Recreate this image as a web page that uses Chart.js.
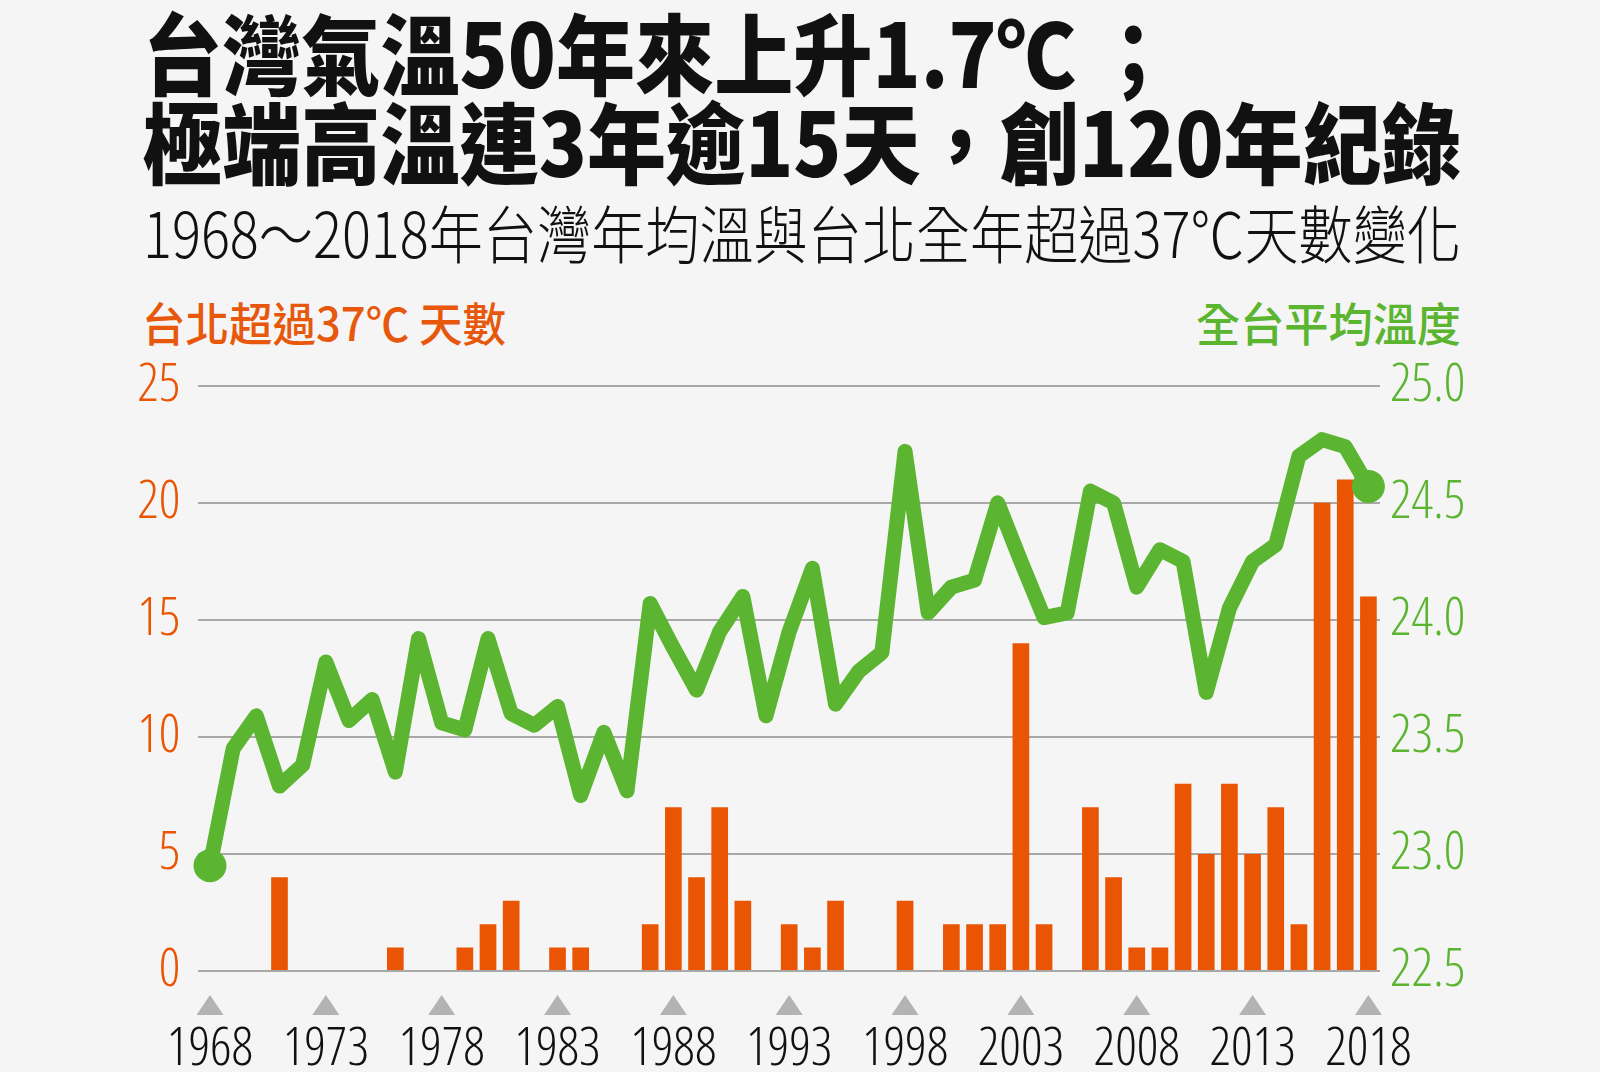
<!DOCTYPE html>
<html><head><meta charset="utf-8">
<script src="https://cdn.jsdelivr.net/npm/chart.js@4.4.1/dist/chart.umd.min.js"></script>
<style>
html,body{margin:0;padding:0;background:#f5f5f5;width:1600px;height:1072px;overflow:hidden;}
.t{position:absolute;white-space:nowrap;font-family:"Noto Sans CJK TC","Noto Sans CJK SC",sans-serif;line-height:1;transform-origin:0 0;}
#t1,#t2{left:143px;font-size:88px;font-weight:900;color:#111;}
#t1{top:6px}#t2{top:95px}
#sub{left:143px;top:199px;font-size:63px;font-weight:300;color:#111;}
#yl{left:142px;top:298px;font-size:46px;font-weight:500;color:#e8580c;}
#yr{left:1196px;top:298px;font-size:46px;font-weight:500;color:#5bb531;}
#wrap{position:absolute;left:0;top:336px;width:1600px;height:736px;}
</style></head>
<body>
<div class="t" id="t1" data-w="1030">台灣氣溫50年來上升1.7℃ ；</div>
<div class="t" id="t2" data-w="1318">極端高溫連3年逾15天，創120年紀錄</div>
<div class="t" id="sub" data-w="1318">1968～2018年台灣年均溫與台北全年超過37℃天數變化</div>
<div class="t" id="yl" data-w="364">台北超過37℃ 天數</div>
<div class="t" id="yr" data-w="265">全台平均溫度</div>
<div id="wrap"><canvas id="c" width="1600" height="736"></canvas></div>
<script>
const years = ['1968','1969','1970','1971','1972','1973','1974','1975','1976','1977','1978','1979','1980','1981','1982','1983','1984','1985','1986','1987','1988','1989','1990','1991','1992','1993','1994','1995','1996','1997','1998','1999','2000','2001','2002','2003','2004','2005','2006','2007','2008','2009','2010','2011','2012','2013','2014','2015','2016','2017','2018'];
const hotDays = [0,0,0,4,0,0,0,0,1,0,0,1,2,3,0,1,1,0,0,2,7,4,7,3,0,2,1,3,0,0,3,0,2,2,2,14,2,0,7,4,1,1,8,5,8,5,7,2,20,21,16];
const avgTemp = [22.95,23.45,23.59,23.29,23.38,23.82,23.57,23.66,23.35,23.92,23.56,23.53,23.92,23.60,23.55,23.63,23.25,23.52,23.27,24.07,23.88,23.70,23.95,24.10,23.59,23.95,24.22,23.64,23.78,23.86,24.72,24.03,24.14,24.17,24.50,24.25,24.01,24.03,24.55,24.50,24.14,24.30,24.25,23.69,24.05,24.25,24.32,24.70,24.77,24.74,24.57];
const tickYears = ['1968','1973','1978','1983','1988','1993','1998','2003','2008','2013','2018'];
const daysTicks = [0,5,10,15,20,25];
const tempTicks = [22.5,23.0,23.5,24.0,24.5,25.0];

document.querySelectorAll('.t').forEach(el=>{
  const w = el.getBoundingClientRect().width;
  const target = +el.dataset.w;
  el.style.transform = 'scaleX(' + (target / w) + ')';
});

const ORANGE = '#ea5504', GREEN = '#5bb531';
const tickFont = {family:'"Open Sans","Liberation Sans Narrow",sans-serif', size:53, weight:'330 condensed'};

const triPlugin = {
  id:'tri',
  afterDraw(chart){
    const xs = chart.scales.x, ctx = chart.ctx, b = chart.chartArea.bottom;
    ctx.save();
    ctx.fillStyle = '#b3b3b3';
    years.forEach((y,i)=>{
      if (tickYears.includes(y)) {
        const x = xs.getPixelForValue(i);
        ctx.beginPath();
        ctx.moveTo(x, b + 24);
        ctx.lineTo(x + 13.5, b + 44);
        ctx.lineTo(x - 13.5, b + 44);
        ctx.closePath();
        ctx.fill();
      }
    });
    ctx.restore();
  }
};

new Chart(document.getElementById('c'), {
  data: {
    labels: years,
    datasets: [
      {type:'line', data: avgTemp, yAxisID:'yT', order:0,
       borderColor: GREEN, borderWidth:15, borderJoinStyle:'round', borderCapStyle:'round',
       tension:0, fill:false,
       pointRadius: c => (c.dataIndex===0 || c.dataIndex===avgTemp.length-1) ? 16.5 : 0,
       pointBackgroundColor: GREEN, pointBorderWidth:0, pointHoverRadius:0},
      {type:'bar', data: hotDays, yAxisID:'yD', order:1,
       backgroundColor: ORANGE, barPercentage:0.72, categoryPercentage:1.0, borderWidth:0}
    ]
  },
  options: {
    responsive:false, animation:false, devicePixelRatio:1,
    layout:{padding:{top:41, left:0, right:0, bottom:0}},
    plugins:{legend:{display:false}, tooltip:{enabled:false}},
    scales:{
      x:{
        offset:true,
        grid:{display:false, drawTicks:false},
        border:{display:false},
        ticks:{autoSkip:false, maxRotation:0, padding:47, color:'#111', font:tickFont,
          callback:(v,i)=> tickYears.includes(years[i]) ? years[i] : ''},
        afterFit:s=>{s.height = 101;}
      },
      yD:{
        position:'left', min:0, max:25,
        afterBuildTicks: s => { s.ticks = daysTicks.map(v=>({value:v})); },
        grid:{color:'#a8a8a8', lineWidth:2, drawTicks:false},
        border:{display:false},
        ticks:{color:ORANGE, font:tickFont, padding:18},
        afterFit:s=>{s.width = 198.4;}
      },
      yT:{
        position:'right', min:22.5, max:25,
        afterBuildTicks: s => { s.ticks = tempTicks.map(v=>({value:v})); },
        grid:{display:false, drawTicks:false},
        border:{display:false},
        ticks:{color:GREEN, font:tickFont, padding:10, callback:v=>v.toFixed(1)},
        afterFit:s=>{s.width = 220;}
      }
    }
  },
  plugins:[triPlugin]
});
</script>
</body></html>
